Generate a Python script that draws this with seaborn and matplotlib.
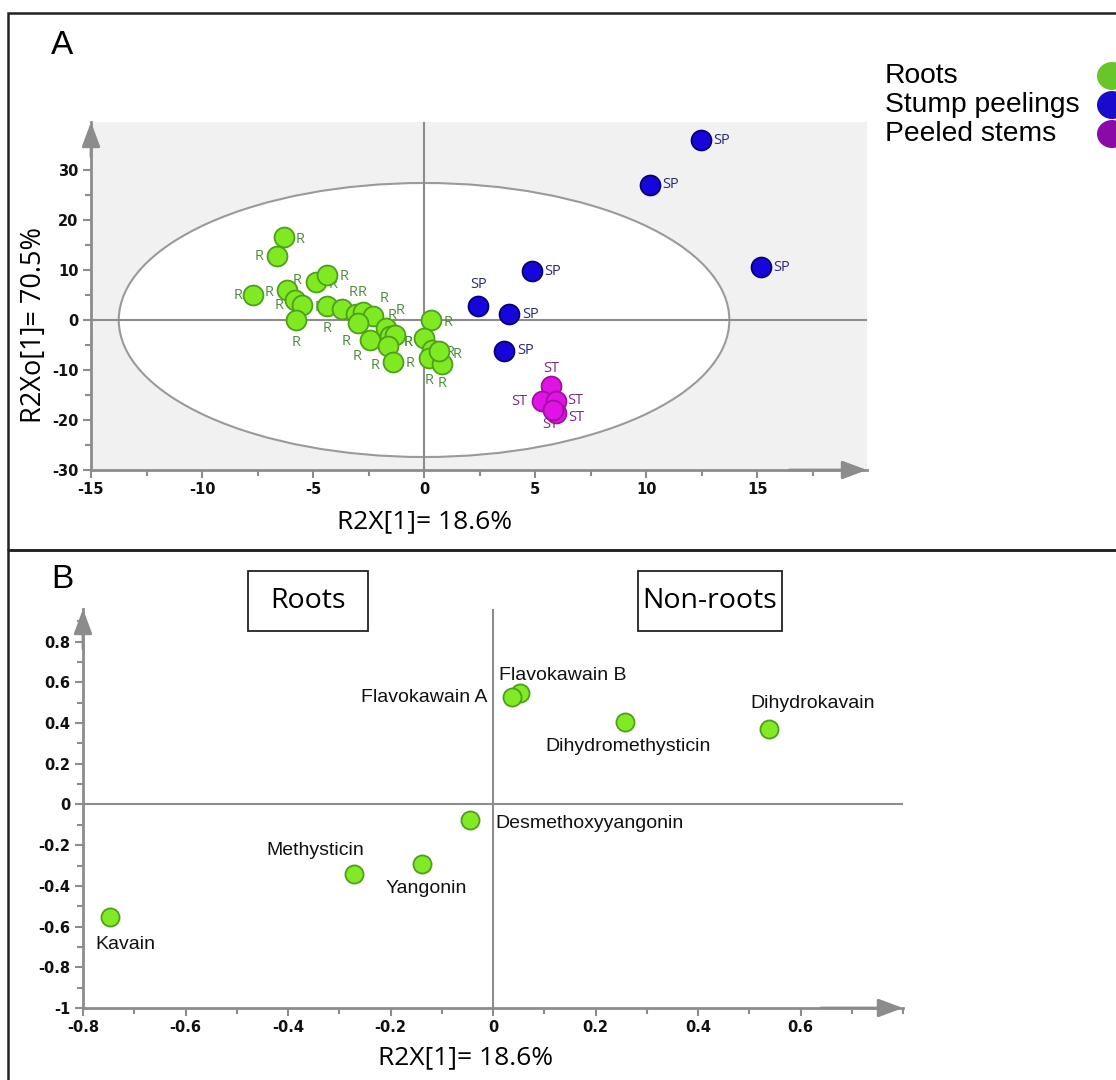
import numpy as np
import pandas as pd
import matplotlib
matplotlib.use("Agg")
import matplotlib.pyplot as plt
import seaborn as sns
from matplotlib.patches import Ellipse, Rectangle
from matplotlib.ticker import MultipleLocator, FuncFormatter

# ---- panel A : OPLS-DA scores ----
roots_x = [-6.31, -6.64, -7.72, -6.19, -5.81, -5.51, -5.77, -4.86, -4.38, -4.38,
           -3.71, -3.06, -2.73, -2.31, -2.96, -2.43, -1.71, -1.53, -1.31, -1.61,
           -1.41, 0.30, 0.00, 0.35, 0.24, 0.80, 0.69]
roots_y = [16.5, 12.8, 5.0, 5.9, 4.0, 3.0, 0.0, 7.5, 9.0, 2.7,
           2.1, 1.2, 1.5, 0.8, -0.7, -4.0, -1.7, -3.3, -3.0, -5.3,
           -8.5, 0.0, -3.7, -6.0, -7.7, -8.8, -6.3]
sp_x = [12.46, 10.18, 15.17, 4.85, 2.45, 3.84, 3.62]
sp_y = [35.9, 27.0, 10.5, 9.7, 2.8, 1.2, -6.2]
st_x = [5.71, 5.30, 5.95, 5.95, 5.80]
st_y = [-13.3, -16.3, -16.3, -18.7, -18.0]

groups = ["Roots", "Stump peelings", "Peeled stems"]
tags = ["R", "SP", "ST"]

# ---- panel B : loadings ----
compounds = ["Kavain", "Methysticin", "Yangonin", "Desmethoxyyangonin",
             "Flavokawain B", "Flavokawain A", "Dihydromethysticin", "Dihydrokavain"]
load_x = [-0.747, -0.272, -0.138, -0.045, 0.053, 0.038, 0.257, 0.538]
load_y = [-0.554, -0.344, -0.295, -0.077, 0.546, 0.527, 0.407, 0.369]

# label offsets (pixels, right / up)
r_off = [(16, -2), (-17, -1), (-15, -1), (-17, -2), (2, 19), (-23, -1), (0, -23),
         (17, -2), (17, -2), (-8, -1), (-15, -19), (-3, 21), (-1, 20), (11, 17),
         (-12, -18), (-13, -17), (6, 13), (18, -6), (5, 24), (-13, -19), (17, -1),
         (17, -3), (-16, -4), (18, -3), (0, -22), (0, -20), (18, -3)]
sp_off = [(21, 0), (21, 0), (21, 0), (21, 0), (0, 21), (21, -1), (21, 0)]
st_off = [(0, 18), (-22, 0), (19, 1), (20, -4), (-3, -15)]
b_off = [(15, -27), (-38, 24), (4, -24), (120, -3), (43, 18), (-88, 0), (3, -25), (44, 26)]

scores = pd.DataFrame({
    "t1": roots_x + sp_x + st_x,
    "to1": roots_y + sp_y + st_y,
    "group": ["Roots"] * len(roots_x) + ["Stump peelings"] * len(sp_x) + ["Peeled stems"] * len(st_x),
})
loads = pd.DataFrame({"p1": load_x, "po1": load_y, "name": compounds})

face = {"Roots": "#7fea22", "Stump peelings": "#1606dc", "Peeled stems": "#e012e6"}
edge = {"Roots": "#4f9e1c", "Stump peelings": "#060070", "Peeled stems": "#a0109e"}
txtc = {"Roots": "#4c8c3a", "Stump peelings": "#2a2c78", "Peeled stems": "#7c2a80"}
leg_c = {"Roots": "#68c62a", "Stump peelings": "#1a0acc", "Peeled stems": "#8a0aa8"}

sns.set_style("white")
plt.rcParams["font.family"] = ["Liberation Sans", "DejaVu Sans"]
plt.rcParams["axes.unicode_minus"] = False
plt.rcParams["text.color"] = "black"

W, H = 1116, 1080
fig = plt.figure(figsize=(W / 100, H / 100), dpi=100)


def fx(x):
    return x / W


def fy(y):
    return 1 - y / H


GRAY = "#8c8c8c"
PT = 0.72  # points per pixel


def style_axes(ax, xmaj, xmin, ymaj, ymin):
    for s in ["top", "right"]:
        ax.spines[s].set_visible(False)
    for s in ["left", "bottom"]:
        ax.spines[s].set_color(GRAY)
        ax.spines[s].set_linewidth(2)
    ax.xaxis.set_major_locator(MultipleLocator(xmaj))
    ax.xaxis.set_minor_locator(MultipleLocator(xmin))
    ax.yaxis.set_major_locator(MultipleLocator(ymaj))
    ax.yaxis.set_minor_locator(MultipleLocator(ymin))
    ax.tick_params(which="major", direction="out", length=6, width=1.5, color=GRAY,
                   labelsize=10.5, pad=3, left=True, bottom=True)
    ax.tick_params(which="minor", direction="out", length=4, width=1.5, color=GRAY,
                   left=True, bottom=True)
    ax.set_xlabel("")
    ax.set_ylabel("")
    ax.axhline(0, color=GRAY, lw=1.5, zorder=1)
    ax.axvline(0, color=GRAY, lw=1.5, zorder=1)
    ap = dict(arrowstyle="-|>,head_length=0.75,head_width=0.28", color=GRAY, lw=2,
              shrinkA=0, shrinkB=0, mutation_scale=20)
    ax.annotate("", xy=(0, 1.0), xytext=(0, 0.9), xycoords="axes fraction",
                arrowprops=ap, annotation_clip=False)
    ax.annotate("", xy=(1.0, 0), xytext=(0.9, 0), xycoords="axes fraction",
                arrowprops=ap, annotation_clip=False)


def bold_ticks(ax):
    for lab in ax.get_xticklabels() + ax.get_yticklabels():
        lab.set_fontfamily("DejaVu Sans")
        lab.set_fontweight("bold")
        lab.set_color("#111111")


fmt = FuncFormatter(lambda v, p: "%g" % round(v, 2))

# ---------- panel A ----------
axA = fig.add_axes([fx(91), fy(470), fx(867 - 91), (470 - 122) / H])
axA.set_facecolor("#f1f1f1")
axA.add_patch(Ellipse((0, 0), 2 * 13.75, 2 * 27.4, facecolor="white",
                      edgecolor="#9a9a9a", lw=1.5, zorder=0.5))
for g in groups:
    sns.scatterplot(data=scores[scores["group"] == g], x="t1", y="to1", ax=axA,
                    color=face[g], edgecolor=edge[g], linewidth=1.3, s=205,
                    legend=False, zorder=3)
axA.set_xlim(-15, 19.95)
axA.set_ylim(-30, 39.6)
style_axes(axA, 5, 2.5, 10, 5)
axA.xaxis.set_major_formatter(fmt)
axA.yaxis.set_major_formatter(fmt)
axA.set_xticks([-15, -10, -5, 0, 5, 10, 15])
bold_ticks(axA)

for xs, ys, offs, g, tag in [(roots_x, roots_y, r_off, "Roots", "R"),
                             (sp_x, sp_y, sp_off, "Stump peelings", "SP"),
                             (st_x, st_y, st_off, "Peeled stems", "ST")]:
    for x, y, (dx, dy) in zip(xs, ys, offs):
        axA.annotate(tag, (x, y), xytext=(dx * PT, dy * PT), textcoords="offset points",
                     ha="center", va="center", fontsize=10.5, color=txtc[g],
                     fontfamily="Open Sans", zorder=2)

fig.text(fx(425), fy(522), "R2X[1]= 18.6%", ha="center", va="center",
         fontsize=19, fontfamily="Open Sans")
fig.text(fx(34), fy(325), "R2Xo[1]= 70.5%", ha="center", va="center",
         rotation=90, fontsize=19.5, fontfamily="Open Sans")
fig.text(fx(62), fy(46), "A", ha="center", va="center", fontsize=24)

# legend at top right (cut by figure edge)
for i, g in enumerate(groups):
    yy = 76 + i * 29
    fig.text(fx(885), fy(yy), g, ha="left", va="center", fontsize=20.3)
    fig.add_artist(Ellipse((fx(1112), fy(yy)), 30 / W, 28 / H, transform=fig.transFigure,
                           facecolor=leg_c[g], edgecolor="none"))

# ---------- panel B ----------
axB = fig.add_axes([fx(83), fy(1008), fx(903 - 83), (1008 - 609) / H])
axB.set_facecolor("white")
sns.scatterplot(data=loads, x="p1", y="po1", ax=axB, color="#80ea24",
                edgecolor="#4f9e1c", linewidth=1.3, s=170, legend=False, zorder=3)
axB.set_xlim(-0.8, 0.8)
axB.set_ylim(-1, 0.96)
style_axes(axB, 0.2, 0.1, 0.2, 0.1)
axB.xaxis.set_major_formatter(fmt)
axB.yaxis.set_major_formatter(fmt)
axB.set_xticks([-0.8, -0.6, -0.4, -0.2, 0, 0.2, 0.4, 0.6])
axB.set_yticks([-1, -0.8, -0.6, -0.4, -0.2, 0, 0.2, 0.4, 0.6, 0.8])
bold_ticks(axB)

for x, y, n, (dx, dy) in zip(load_x, load_y, compounds, b_off):
    axB.annotate(n, (x, y), xytext=(dx * PT, dy * PT), textcoords="offset points",
                 ha="center", va="center", fontsize=14, color="#111111")

fig.text(fx(466), fy(1058), "R2X[1]= 18.6%", ha="center", va="center",
         fontsize=19, fontfamily="Open Sans")
fig.text(fx(62), fy(580), "B", ha="center", va="center", fontsize=24)

for (x0, x1), lab in [((248, 368), "Roots"), ((638, 782), "Non-roots")]:
    fig.add_artist(Rectangle((fx(x0), fy(631)), (x1 - x0) / W, (631 - 571) / H,
                             transform=fig.transFigure, fill=False, edgecolor="#222222", lw=1.3))
    fig.text(fx((x0 + x1) / 2), fy(601), lab, ha="center", va="center",
             fontsize=20.5, fontfamily="Open Sans")

# panel frames
fig.add_artist(Rectangle((fx(8), fy(550)), 1.0, (550 - 13) / H, transform=fig.transFigure,
                         fill=False, edgecolor="#222222", lw=1.8, clip_on=False))
fig.add_artist(Rectangle((fx(8), -0.1), 1.0, 0.1 + fy(550), transform=fig.transFigure,
                         fill=False, edgecolor="#222222", lw=1.8, clip_on=False))

fig.savefig("out.png", dpi=100, facecolor="white")
